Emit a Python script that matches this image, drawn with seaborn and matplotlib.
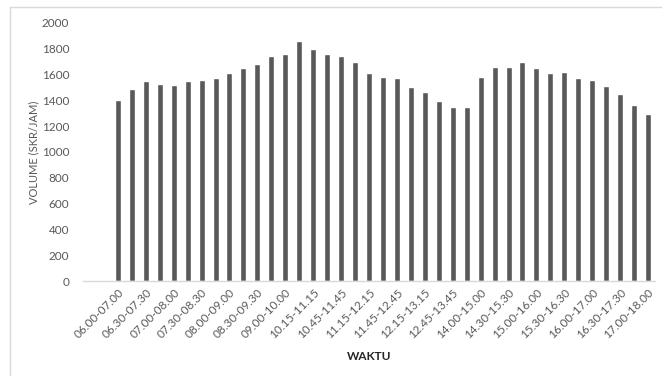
import matplotlib
matplotlib.use("Agg")
import matplotlib.pyplot as plt
from matplotlib.lines import Line2D
import seaborn as sns
import pandas as pd

# Hourly traffic volume, rolling 15-minute windows for three survey periods
waktu = [
    "06.00-07.00", "06.15-07.15", "06.30-07.30", "06.45-07.45", "07.00-08.00",
    "07.15-08.15", "07.30-08.30", "07.45-08.45", "08.00-09.00", "08.15-09.15",
    "08.30-09.30", "08.45-09.45", "09.00-10.00",
    "10.00-11.00", "10.15-11.15", "10.30-11.30", "10.45-11.45", "11.00-12.00",
    "11.15-12.15", "11.30-12.30", "11.45-12.45", "12.00-13.00", "12.15-13.15",
    "12.30-13.30", "12.45-13.45", "13.00-14.00",
    "14.00-15.00", "14.15-15.15", "14.30-15.30", "14.45-15.45", "15.00-16.00",
    "15.15-16.15", "15.30-16.30", "15.45-16.45", "16.00-17.00", "16.15-17.15",
    "16.30-17.30", "16.45-17.45", "17.00-18.00",
]
volume = [
    1400, 1487, 1549, 1529, 1521, 1549, 1555, 1570, 1612, 1653, 1679, 1741, 1757,
    1855, 1796, 1754, 1746, 1695, 1612, 1581, 1568, 1505, 1461, 1394, 1350, 1350,
    1581, 1658, 1658, 1692, 1650, 1612, 1620, 1573, 1557, 1511, 1451, 1365, 1296,
]
y_ticks = [0, 200, 400, 600, 800, 1000, 1200, 1400, 1600, 1800, 2000]

df = pd.DataFrame({"WAKTU": waktu, "VOLUME": volume})

sns.set_style("white")
plt.rcParams["font.family"] = ["Lato", "DejaVu Sans"]

fig = plt.figure(figsize=(6.62, 3.76), dpi=100)
ax = fig.add_axes([83 / 662, 1 - 281 / 376, (655 - 83) / 662, (281 - 22.7) / 376])

sns.barplot(data=df, x="WAKTU", y="VOLUME", order=waktu, color="#595959",
            saturation=1, width=0.43, ax=ax)

ax.set_xlim(-2.5, len(waktu) - 0.5)
ax.set_ylim(0, 2000)
ax.set_yticks(y_ticks)
ax.set_yticklabels([str(v) for v in y_ticks], fontsize=8.5, color="#595959")

ax.set_xticks(range(len(waktu)))
ax.set_xticklabels([w if i % 2 == 0 else "" for i, w in enumerate(waktu)],
                   rotation=45, ha="right", rotation_mode="anchor",
                   fontsize=8.5, color="#595959")
ax.tick_params(axis="both", length=0, pad=4)
ax.tick_params(axis="y", pad=10)

for side in ["top", "right", "left"]:
    ax.spines[side].set_visible(False)
ax.spines["bottom"].set_color("#d9d9d9")
ax.spines["bottom"].set_linewidth(1)

ax.set_ylabel("VOLUME (SKR/JAM)", fontsize=8, color="#595959", labelpad=2)
ax.set_xlabel("WAKTU", fontsize=8.5, fontweight="bold", color="#262626", labelpad=8)

# Chart area frame
fig.add_artist(Line2D([9.5 / 662, 9.5 / 662], [0, 1 - 6.5 / 376],
                      transform=fig.transFigure, color="#d9d9d9", lw=1))
fig.add_artist(Line2D([9.5 / 662, 1], [1 - 6.5 / 376, 1 - 6.5 / 376],
                      transform=fig.transFigure, color="#d9d9d9", lw=1))

fig.savefig("out.png", dpi=100)
